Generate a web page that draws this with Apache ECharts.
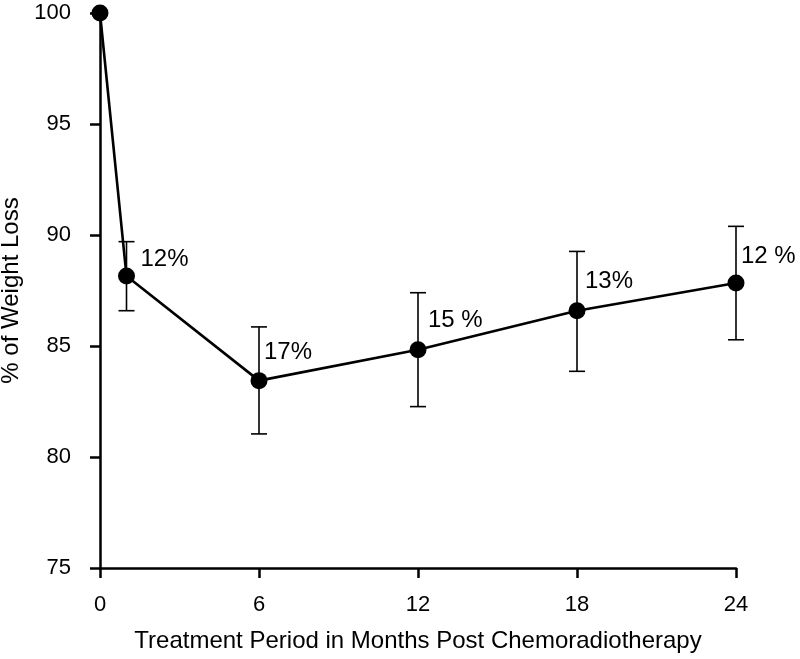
<!DOCTYPE html>
<html>
<head>
<meta charset="utf-8">
<script src="https://cdn.jsdelivr.net/npm/echarts@6/dist/echarts.min.js"></script>
<style>html,body{margin:0;padding:0;background:#fff;}#c{width:800px;height:659px;}</style>
</head>
<body>
<div id="c"></div>
<script>
var months = [0, 1, 6, 12, 18, 24];
var meanPct = [100, 88.15, 83.44, 84.83, 86.59, 87.84];
var errUpper = [null, 89.7, 85.86, 87.4, 89.26, 90.39];
var errLower = [null, 86.59, 81.04, 82.27, 83.86, 85.28];
var lossLabels = ['', '12%', '17%', '15 %', '13%', '12 %'];
var yTicks = [75, 80, 85, 90, 95, 100];
var xTicks = [0, 6, 12, 18, 24];

var labelOffsets = [[0,0],[14,-17],[5,-28],[10,-29],[8,-29],[5,-27]];
var FONT = '"Liberation Sans", Arial, sans-serif';

var chart = echarts.init(document.getElementById('c'), null, {renderer: 'canvas'});

var lineData = months.map(function (m, i) {
  return {
    value: [m, meanPct[i]],
    label: {
      show: lossLabels[i] !== '',
      formatter: lossLabels[i],
      position: 'inside',
      align: 'left',
      verticalAlign: 'middle',
      offset: labelOffsets[i],
      color: '#000',
      fontSize: 24,
      fontFamily: FONT
    }
  };
});

var errData = [];
months.forEach(function (m, i) {
  if (errUpper[i] != null) errData.push([m, errLower[i], errUpper[i]]);
});

chart.setOption({
  animation: false,
  backgroundColor: '#fff',
  grid: {left: 100, right: 64, top: 13, bottom: 91, containLabel: false, outerBoundsMode: 'none'},
  xAxis: {
    type: 'value', min: xTicks[0], max: xTicks[xTicks.length - 1], interval: 6,
    name: 'Treatment Period in Months Post Chemoradiotherapy',
    nameLocation: 'middle', nameGap: 61,
    nameTextStyle: {color: '#000', fontSize: 24, fontFamily: FONT},
    axisLine: {show: true, onZero: false, lineStyle: {color: '#000', width: 2.5}},
    axisTick: {show: true, inside: false, length: 10, lineStyle: {color: '#000', width: 2.5}},
    axisLabel: {color: '#000', fontSize: 22, fontFamily: FONT, margin: 26},
    splitLine: {show: false}
  },
  yAxis: {
    type: 'value', min: yTicks[0], max: yTicks[yTicks.length - 1], interval: 5,
    name: '% of Weight Loss',
    nameLocation: 'middle', nameGap: 68,
    nameTextStyle: {color: '#000', fontSize: 24, fontFamily: FONT},
    axisLine: {show: true, onZero: false, lineStyle: {color: '#000', width: 2.5}},
    axisTick: {show: true, inside: false, length: 10, lineStyle: {color: '#000', width: 2.5}},
    axisLabel: {color: '#000', fontSize: 22, fontFamily: FONT, margin: 29},
    splitLine: {show: false}
  },
  series: [
    {
      type: 'custom',
      data: errData,
      clip: false,
      z: 1,
      renderItem: function (params, api) {
        var x = api.value(0);
        var lo = api.coord([x, api.value(1)]);
        var hi = api.coord([x, api.value(2)]);
        var w = 8;
        var st = {stroke: '#000', lineWidth: 1.6};
        return {
          type: 'group',
          children: [
            {type: 'line', shape: {x1: lo[0], y1: lo[1], x2: hi[0], y2: hi[1]}, style: st},
            {type: 'line', shape: {x1: lo[0] - w, y1: lo[1], x2: lo[0] + w, y2: lo[1]}, style: st},
            {type: 'line', shape: {x1: hi[0] - w, y1: hi[1], x2: hi[0] + w, y2: hi[1]}, style: st}
          ]
        };
      }
    },
    {
      type: 'line',
      data: lineData,
      clip: false,
      z: 2,
      symbol: 'circle',
      symbolSize: 17,
      itemStyle: {color: '#000'},
      lineStyle: {color: '#000', width: 2.6}
    }
  ]
});
</script>
</body>
</html>
